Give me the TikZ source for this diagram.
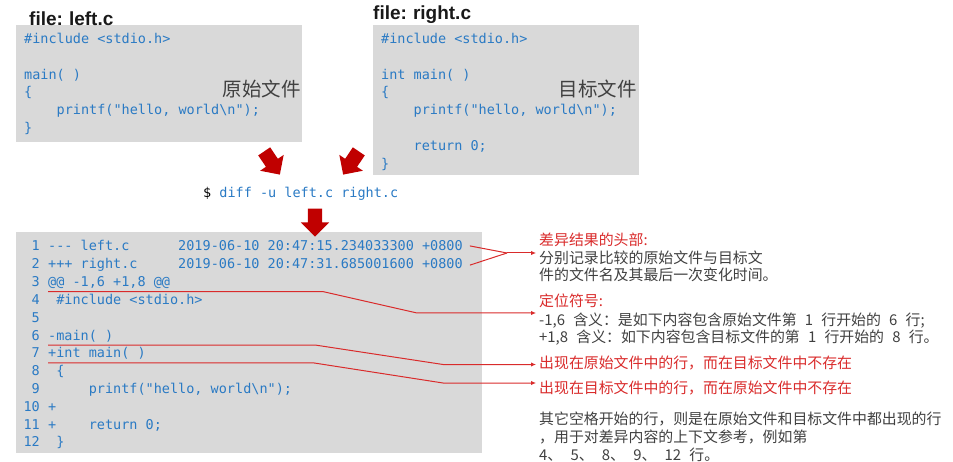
\documentclass[tikz,border=0pt]{standalone}
\usepackage{fontspec}
\setmainfont{Liberation Sans}
\setmonofont{DejaVu Sans Mono}
\newfontfamily\cjk{Noto Sans CJK SC}
\usetikzlibrary{shapes.arrows,arrows.meta}
\definecolor{boxgray}{HTML}{D9D9D9}
\definecolor{codeblue}{HTML}{2A7AC4}
\definecolor{arrowred}{HTML}{C00000}
\definecolor{notered}{HTML}{D92B2B}
\definecolor{notegray}{HTML}{404040}
\newcommand\ind{\hphantom{0000}}
\newcommand\gap{\hspace{0.55em}}
\tikzset{
  codebox/.style={fill=boxgray},
  code/.style={anchor=base west,inner sep=0,text=codeblue,font=\ttfamily\fontsize{13.5}{16}\selectfont},
  lineno/.style={code,anchor=base east},
  title/.style={anchor=base west,inner sep=0,text=black!90,font=\bfseries\fontsize{19}{22}\selectfont},
  label/.style={anchor=east,inner sep=0,text=notegray,font=\cjk\fontsize{19.5}{22}\selectfont},
  bigarrow/.style={single arrow,fill=arrowred,minimum height=28pt,inner sep=7pt,single arrow head extend=7pt},
  note/.style={anchor=base west,inner sep=0,inner xsep=3pt,text=notegray,font=\cjk\fontsize{14.9}{17}\selectfont},
  rednote/.style={note,text=notered},
  link/.style={draw=notered,line width=1pt},
  linkto/.style={link,-{Latex[length=5pt,width=4.5pt]}},
}
\begin{document}
\begin{tikzpicture}[x=1pt,y=-1pt]
    \useasboundingbox (0,0) rectangle (953,462);
    %% Boxes
    \fill[codebox] (16,25) rectangle (302,142);
    \fill[codebox] (373,25) rectangle (639,175);
    \fill[codebox] (16,232) rectangle (482,453);
    %% Source files
    \node[title] (ltitle) at (29,26) {file:\hspace{-1pt} left.c};
    \node[title] (rtitle) at (373,20) {file:\hspace{-1pt} right.c};
    \node[code] (l1) at (24,43.5) {\#include <stdio.h>};
    \node[code] (l3) at (24,79.1) {main( )};
    \node[code] (l4) at (24,96.9) {\{};
    \node[code] (l5) at (24,114.7) {\ind printf("hello, world\textbackslash n");};
    \node[code] (l6) at (24,132.5) {\}};
    \node[code] (r1) at (381,43.5) {\#include <stdio.h>};
    \node[code] (r3) at (381,79.1) {int main( )};
    \node[code] (r4) at (381,96.9) {\{};
    \node[code] (r5) at (381,114.7) {\ind printf("hello, world\textbackslash n");};
    \node[code] (r7) at (381,150.3) {\ind return 0;};
    \node[code] (r8) at (381,168.1) {\}};
    \node[label] (orig) at (301,89) {原始文件};
    \node[label] (target) at (637,89) {目标文件};
    %% Command
    \node[bigarrow,rotate=-56] (a1) at (270,160) {};
    \node[bigarrow,rotate=-124] (a2) at (353,160) {};
    \node[code] (cmd) at (203,197.5) {\textcolor{black}{\$} diff -u left.c right.c};
    \node[bigarrow,rotate=-90] (a3) at (315,219) {};
    %% Diff output
    \foreach \i in {1,...,12}
        \node[lineno] (n\i) at (40,{251+17.8*(\i-1)}) {\i};
    \node[code] (d1) at (48,251) {--- left.c\hphantom{000000}2019-06-10 20:47:15.234033300 +0800};
    \node[code] (d2) at (48,268.8) {+++ right.c\hphantom{00000}2019-06-10 20:47:31.685001600 +0800};
    \node[code] (d3) at (48,286.6) {@@ -1,6 +1,8 @@};
    \node[code] (d4) at (48,304.4) {\hphantom{0}\#include <stdio.h>};
    \node[code] (d6) at (48,340) {-main( )};
    \node[code] (d7) at (48,357.8) {+int main( )};
    \node[code] (d8) at (48,375.6) {\hphantom{0}\{};
    \node[code] (d9) at (48,393.4) {\hphantom{0}\ind printf("hello, world\textbackslash n");};
    \node[code] (d10) at (48,411.2) {+};
    \node[code] (d11) at (48,429) {+\ind return 0;};
    \node[code] (d12) at (48,446.8) {\hphantom{0}\}};
    %% Notes
    \node[rednote] (hdr) at (536,245.5) {差异结果的头部:};
    \node[note] (hdr1) at (536,263.5) {分别记录比较的原始文件与目标文};
    \node[note] (hdr2) at (536,280.5) {件的文件名及其最后一次变化时间。};
    \node[rednote] (loc) at (536,306.5) {定位符号:};
    \node[note] (loc1) at (536,325.5) {-1,6\gap 含义：是如下内容包含原始文件第\gap 1\gap 行开始的\gap 6\gap 行;};
    \node[note] (loc2) at (536,342.5) {+1,8\gap 含义：如下内容包含目标文件的第\gap 1\gap 行开始的\gap 8\gap 行。};
    \node[rednote] (del) at (536,368.5) {出现在原始文件中的行，而在目标文件中不存在};
    \node[rednote] (add) at (536,393.5) {出现在目标文件中的行，而在原始文件中不存在};
    \node[note] (ctx1) at (536,424.5) {其它空格开始的行，则是在原始文件和目标文件中都出现的行};
    \node[note] (ctx2) at (536,442.5) {，用于对差异内容的上下文参考，例如第};
    \node[note] (ctx3) at (536,460.5) {4、\gap 5、\gap 8、\gap 9、\gap 12\gap 行。};
    %% Connectors
    \coordinate (hj) at (507,253);
    \draw[link] ([xshift=7pt]d1.east) -- (hj);
    \draw[link] ([xshift=7pt]d2.east) -- (hj);
    \draw[linkto] (hj) -- (hj -| hdr.west);
    \coordinate (u1) at (323,291.6);
    \coordinate (u2) at (417,313);
    \draw[linkto] ([yshift=-5pt]d3.base west) -- (u1) -- (u2) -- (u2 -| loc.west);
    \coordinate (m1) at (315,345);
    \coordinate (m2) at (443,364.5);
    \draw[linkto] ([yshift=-5pt]d6.base west) -- (m1) -- (m2) -- (m2 -| del.west);
    \coordinate (k1) at (313,362.8);
    \coordinate (k2) at (443,383);
    \draw[linkto] ([yshift=-5pt]d7.base west) -- (k1) -- (k2) -- (k2 -| add.west);
\end{tikzpicture}
\end{document}
